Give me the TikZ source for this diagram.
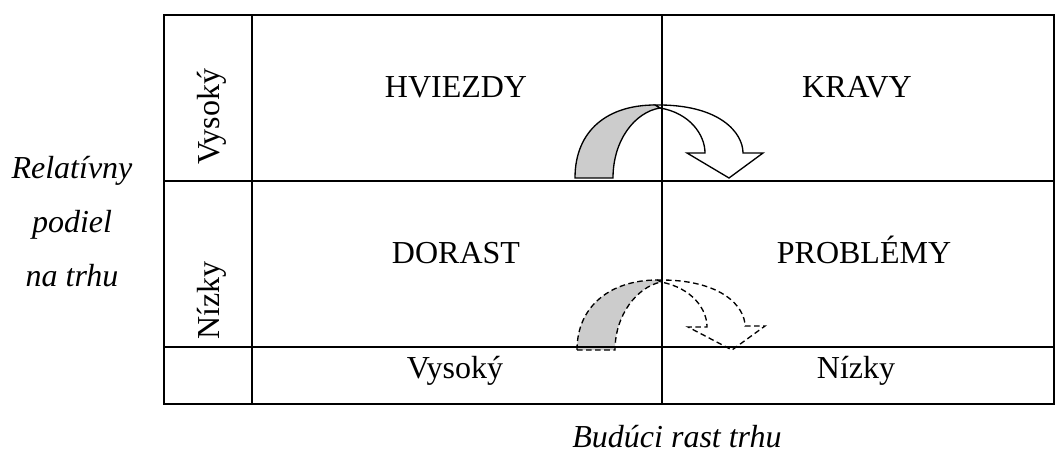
\documentclass[tikz,border=0pt]{standalone}
\usepackage{fontspec}
\setmainfont{Liberation Serif}
\begin{document}
\begin{tikzpicture}[x=0.75pt,y=-0.75pt,
  grid/.style={line width=1.5pt},
  lbl/.style={font=\fontsize{24}{28}\selectfont, inner sep=0pt, anchor=base},
  vlbl/.style={font=\fontsize{24}{28}\selectfont, inner sep=0pt, anchor=base west, rotate=90},
  ital/.style={font=\fontsize{24}{40.5}\selectfont\itshape, inner sep=0pt, align=center},
  arrowline/.style={line width=1pt, line join=miter},
  dasharrow/.style={arrowline, dash pattern=on 4.2pt off 2.6pt},
  band/.style={fill=black!20},
  head/.style={fill=white}]
\useasboundingbox (0,0) rectangle (1056,452);

% arrows (solid)
\filldraw[arrowline, head] (655,105) .. controls (720,104) and (743,133) .. (743,153)
  -- (763,153) -- (729,178) -- (687,153) -- (705,153)
  .. controls (705,135) and (690,113) .. (660,108) -- cycle;
\filldraw[arrowline, band] (575,178) .. controls (575,130) and (608,105) .. (655,105)
  -- (660,108) .. controls (635,112) and (613,140) .. (613,178) -- cycle;

% arrows (dashed)
\filldraw[dasharrow, head] (657,280) .. controls (722,279) and (745,307) .. (745,326)
  -- (765,326) -- (732,350) -- (688,327) -- (707,327)
  .. controls (707,309) and (692,288) .. (661,282) -- cycle;
\filldraw[dasharrow, band] (577,350) .. controls (577,305) and (612,280) .. (657,280)
  -- (661,282) .. controls (637,287) and (615,315) .. (615,350) -- cycle;

% grid
\draw[grid] (164,15) rectangle (1054,404);
\draw[grid] (252,15) -- (252,404);
\draw[grid] (662,15) -- (662,404);
\draw[grid] (164,181) -- (1054,181);
\draw[grid] (164,347) -- (1054,347);

% cell texts
\node[lbl] (hviezdy) at (456,98) {HVIEZDY};
\node[lbl] (kravy) at (857,98) {KRAVY};
\node[lbl] (dorast) at (456,264) {DORAST};
\node[lbl] (problemy) at (864,264) {PROBLÉMY};
\node[lbl] (vysokyx) at (455,378) {Vysoký};
\node[lbl] (nizkyx) at (856,378) {Nízky};
\node[vlbl] (vysokyy) at (219,165) {Vysoký};
\node[vlbl] (nizkyy) at (219,340) {Nízky};

% axis titles
\node[ital] (relpodiel) at (72,222) {Relatívny\\podiel\\na trhu};
\node[lbl, font=\fontsize{24}{28}\selectfont\itshape] (rast) at (677,447) {Budúci rast trhu};
\end{tikzpicture}
\end{document}
